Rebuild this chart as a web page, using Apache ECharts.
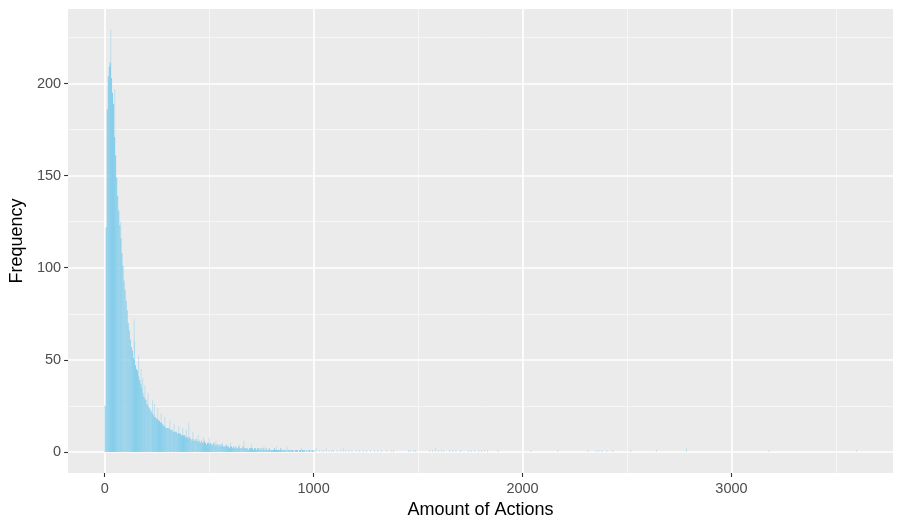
<!DOCTYPE html>
<html>
<head>
<meta charset="utf-8">
<script src="https://cdn.jsdelivr.net/npm/echarts@6/dist/echarts.min.js"></script>
<style>
  html, body { margin: 0; padding: 0; background: #ffffff; }
  #chart { width: 910px; height: 529px; }
</style>
</head>
<body>
<div id="chart"></div>
<script>
// Histogram of the number of actions per user.
// Bins of 5 actions from 0 up to 1000 (frequency per action value).
const binWidth = 5;
const binCounts = [
  25, 122, 186, 204, 209, 211, 203, 195, 189, 171,
  161, 149, 139, 131, 123, 116, 108, 101, 93, 88,
  82, 77, 70, 66, 61, 57, 55, 51, 50, 47,
  45, 44, 41, 39, 37, 35, 32, 30, 29, 28,
  26, 25, 24, 23, 22, 21, 20, 19, 19, 18,
  18, 17, 17, 16, 16, 15, 14, 14, 13, 13,
  13, 13, 12, 12, 12, 11, 11, 11, 11, 10,
  10, 10, 10, 9, 9, 9, 9, 8, 8, 8,
  7, 8, 7, 6, 7, 6, 6, 7, 6, 5,
  6, 5, 6, 5, 5, 6, 5, 4, 5, 5,
  4, 5, 4, 4, 5, 4, 3, 4, 4, 3,
  4, 3, 4, 3, 3, 3, 4, 3, 3, 2,
  3, 3, 2, 3, 2, 3, 2, 2, 3, 2,
  2, 2, 3, 2, 2, 2, 2, 1, 2, 2,
  2, 2, 1, 2, 2, 1, 2, 2, 1, 2,
  1, 2, 1, 1, 2, 1, 1, 2, 1, 1,
  1, 1, 2, 1, 1, 1, 1, 1, 2, 1,
  1, 1, 1, 1, 0, 1, 1, 1, 1, 1,
  1, 0, 1, 1, 1, 0, 1, 1, 0, 1,
  1, 1, 0, 1, 0, 1, 1, 0, 1, 1
];

// Single action values that stand out above their neighbours.
const spikeActions = [
  22, 27, 31, 46, 75, 139, 141, 160, 172, 180,
  190, 205, 227, 236, 252, 268, 285, 310, 330, 352,
  371, 388, 400, 420, 445, 470, 498, 530, 560, 600,
  640, 664, 700, 760, 820, 870, 940
];
const spikeCounts = [
  212, 229, 203, 197, 125, 72, 60, 52, 45, 40,
  36, 32, 28, 26, 24, 21, 19, 17, 15, 14,
  13, 12, 16, 11, 9, 8, 8, 6, 5, 5,
  4, 6, 4, 3, 3, 3, 2
];

// Sparse long tail beyond 1000 actions (single action values).
const tailActions = [
  1003, 1011, 1024, 1037, 1046, 1058, 1072, 1085, 1093, 1110,
  1126, 1139, 1152, 1167, 1181, 1204, 1218, 1236, 1251, 1270,
  1289, 1305, 1322, 1347, 1371, 1380, 1452, 1461, 1478, 1486,
  1553, 1567, 1581, 1596, 1610, 1621, 1648, 1662, 1679, 1701,
  1738, 1752, 1769, 1788, 1801, 1815, 1830, 1880, 2037, 2166,
  2311, 2349, 2362, 2378, 2401, 2429, 2516, 2638, 2782, 3177, 3595
];
const tailCounts = [
  1, 2, 1, 1, 1, 2, 1, 1, 1, 1,
  1, 2, 1, 1, 1, 1, 1, 1, 1, 1,
  1, 1, 1, 1, 1, 1, 1, 1, 1, 1,
  1, 1, 2, 1, 1, 1, 1, 1, 1, 1,
  1, 1, 1, 1, 1, 1, 1, 1, 1, 1,
  1, 1, 1, 1, 1, 1, 1, 1, 2, 1, 1
];

// Axis ticks and grid lines.
const xTicks = [0, 1000, 2000, 3000];
const xMinor = [500, 1500, 2500, 3500];
const yTicks = [0, 50, 100, 150, 200];
const yMinor = [25, 75, 125, 175, 225];

const FONT = '"Liberation Sans", Arial, Helvetica, sans-serif';
const BAR = '#87CEEB';

// [binStart, binEnd, count]
const bins = [];
binCounts.forEach((c, i) => { if (c > 0) bins.push([i * binWidth, (i + 1) * binWidth, c]); });
spikeActions.forEach((a, i) => bins.push([a, a + 1, spikeCounts[i]]));
tailActions.forEach((a, i) => bins.push([a, a + 1, tailCounts[i]]));

const chart = echarts.init(document.getElementById('chart'), null, { renderer: 'canvas' });

const plainNumber = v => String(v);

chart.setOption({
  animation: false,
  backgroundColor: '#ffffff',
  grid: {
    left: 67, right: 17, top: 9, bottom: 56,
    show: true, backgroundColor: '#EBEBEB', borderWidth: 0
  },
  xAxis: {
    type: 'value',
    min: -175, max: 3773,
    name: 'Amount of Actions',
    nameLocation: 'middle',
    nameGap: 26,
    nameTextStyle: { fontFamily: FONT, fontSize: 18, color: '#000000' },
    axisLine: { show: false, onZero: false },
    axisTick: { show: true, customValues: xTicks, length: 4, lineStyle: { color: '#333333', width: 1.1 } },
    axisLabel: { customValues: xTicks, formatter: plainNumber, color: '#4D4D4D', fontFamily: FONT, fontSize: 14.5, margin: 8 },
    splitLine: { show: false }
  },
  yAxis: {
    type: 'value',
    min: -11.45, max: 240.45,
    name: 'Frequency',
    nameLocation: 'middle',
    nameGap: 35,
    nameTextStyle: { fontFamily: FONT, fontSize: 18, color: '#000000' },
    axisLine: { show: false, onZero: false },
    axisTick: { show: true, customValues: yTicks, length: 4, lineStyle: { color: '#333333', width: 1.1 } },
    axisLabel: { customValues: yTicks, formatter: plainNumber, color: '#4D4D4D', fontFamily: FONT, fontSize: 14.5, margin: 7 },
    splitLine: { show: false }
  },
  series: [
    {
      // minor panel grid
      type: 'line', data: [], z: 1, silent: true,
      markLine: {
        silent: true, symbol: 'none', animation: false,
        label: { show: false },
        lineStyle: { color: '#F7F7F7', width: 0.9, type: 'solid' },
        data: xMinor.map(v => ({ xAxis: v })).concat(yMinor.map(v => ({ yAxis: v })))
      }
    },
    {
      // major panel grid
      type: 'line', data: [], z: 2, silent: true,
      markLine: {
        silent: true, symbol: 'none', animation: false,
        label: { show: false },
        lineStyle: { color: '#FFFFFF', width: 1.7, type: 'solid' },
        data: xTicks.map(v => ({ xAxis: v })).concat(yTicks.map(v => ({ yAxis: v })))
      }
    },
    {
      type: 'custom',
      z: 5,
      clip: true,
      data: bins,
      encode: { x: [0, 1], y: 2 },
      renderItem: function (params, api) {
        const p0 = api.coord([api.value(0), api.value(2)]);
        const p1 = api.coord([api.value(1), 0]);
        let w = p1[0] - p0[0];
        // sub-pixel bins are drawn one pixel wide but faint
        const thin = w < 1;
        if (thin) w = 1;
        return {
          type: 'rect',
          shape: { x: p0[0], y: p0[1], width: w, height: p1[1] - p0[1] },
          style: { fill: BAR, opacity: thin ? 0.45 : 1 }
        };
      }
    }
  ]
});
</script>
</body>
</html>
